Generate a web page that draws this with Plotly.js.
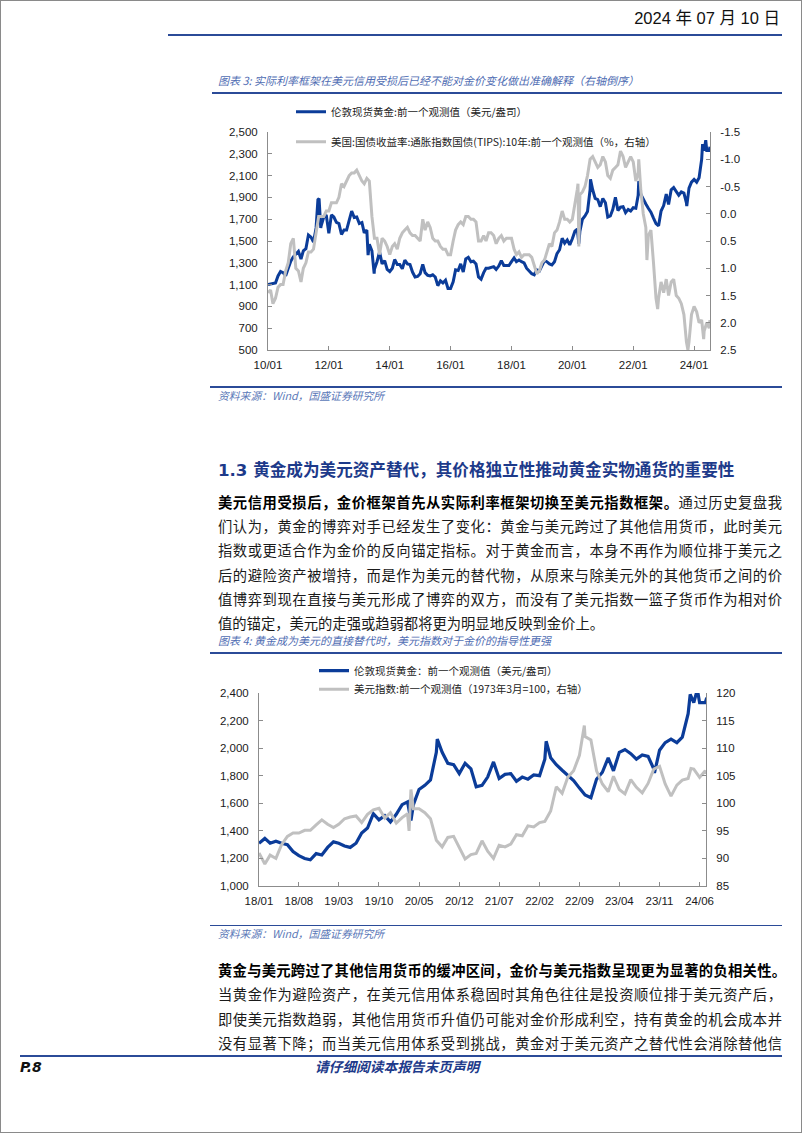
<!DOCTYPE html>
<html><head><meta charset="utf-8">
<script src="https://cdn.plot.ly/plotly-3.0.1.min.js"></script>
<style>
html,body{margin:0;padding:0;background:#fff;}
#page{position:relative;width:802px;height:1133px;overflow:hidden;font-family:"Noto Sans CJK SC",sans-serif;color:#111;}
#frame{position:absolute;left:0;top:0;width:800px;height:1131px;border:1px solid #8a8a8a;}
.t{position:absolute;white-space:nowrap;transform:translateY(-50%);line-height:1.15;}
.rule{position:absolute;background:#2b4b98;}
.ct{left:218px;font-size:11px;font-style:italic;color:#4f6db3;}
.src{left:218px;font-size:10.8px;font-style:italic;color:#5b78b8;}
.p{position:absolute;left:218px;width:564px;font-size:14.3px;line-height:1.1;transform:translateY(-50%);text-align:justify;text-align-last:justify;color:#1a1a1a;}
.p.last{text-align-last:left;}
.b{font-weight:bold;color:#000;}
.chart{position:absolute;left:0;width:802px;}
</style></head>
<body><div id="page">
<div id="frame"></div>
<div class="t" style="right:22px;top:18px;font-size:16.5px;font-family:'Liberation Sans','Noto Sans CJK SC',sans-serif;color:#111;">2024 年 07 月 10 日</div>
<div class="rule" style="left:168px;top:34px;width:614px;height:2px;"></div>

<div class="t ct" style="top:80px;">图表 3: 实际利率框架在美元信用受损后已经不能对金价变化做出准确解释（右轴倒序）</div>
<div class="rule" style="left:212px;top:92px;width:570px;height:2px;"></div>
<div id="chart1" class="chart" style="top:95px;height:290px;"></div>
<div class="rule" style="left:210px;top:386px;width:572px;height:1.5px;"></div>
<div class="t src" style="top:395px;">资料来源：Wind，国盛证券研究所</div>

<div class="t" style="left:218px;top:471px;font-size:16.6px;font-weight:bold;color:#1d3a8a;font-family:'DejaVu Sans','Noto Sans CJK SC',sans-serif;">1.3&nbsp;黄金成为美元资产替代，其价格独立性推动黄金实物通货的重要性</div>

<div class="p" style="top:502px;"><span class="b">美元信用受损后，金价框架首先从实际利率框架切换至美元指数框架。</span>通过历史复盘我</div>
<div class="p" style="top:526.2px;">们认为，黄金的博弈对手已经发生了变化：黄金与美元跨过了其他信用货币，此时美元</div>
<div class="p" style="top:550.4px;">指数或更适合作为金价的反向锚定指标。对于黄金而言，本身不再作为顺位排于美元之</div>
<div class="p" style="top:574.6px;">后的避险资产被增持，而是作为美元的替代物，从原来与除美元外的其他货币之间的价</div>
<div class="p" style="top:598.8px;">值博弈到现在直接与美元形成了博弈的双方，而没有了美元指数一篮子货币作为相对价</div>
<div class="p last" style="top:623px;">值的锚定，美元的走强或趋弱都将更为明显地反映到金价上。</div>

<div class="t ct" style="top:640px;">图表 4: 黄金成为美元的直接替代时，美元指数对于金价的指导性更强</div>
<div class="rule" style="left:210px;top:652px;width:572px;height:2px;"></div>
<div id="chart2" class="chart" style="top:655px;height:260px;"></div>
<div class="rule" style="left:210px;top:924.5px;width:572px;height:1.5px;"></div>
<div class="t src" style="top:933px;">资料来源：Wind，国盛证券研究所</div>

<div class="p" style="top:970px;width:568px;"><span class="b">黄金与美元跨过了其他信用货币的缓冲区间，金价与美元指数呈现更为显著的负相关性。</span></div>
<div class="p" style="top:994.3px;">当黄金作为避险资产，在美元信用体系稳固时其角色往往是投资顺位排于美元资产后，</div>
<div class="p" style="top:1018.6px;">即使美元指数趋弱，其他信用货币升值仍可能对金价形成利空，持有黄金的机会成本并</div>
<div class="p" style="top:1043px;">没有显著下降；而当美元信用体系受到挑战，黄金对于美元资产之替代性会消除替他信</div>

<div class="rule" style="left:20px;top:1055px;width:762px;height:2px;"></div>
<div class="t" style="left:20px;top:1067px;font-size:14px;font-weight:bold;font-style:italic;font-family:'DejaVu Sans',sans-serif;color:#111;">P.8</div>
<div class="t" style="left:315px;top:1067px;font-size:13.7px;font-weight:bold;font-style:italic;color:#1d3a8a;">请仔细阅读本报告末页声明</div>
</div>

<script>
// ---------- Chart 3 data: London spot gold (USD/oz) ----------
const goldDates = [
"2010-01","2010-02","2010-03","2010-04","2010-05","2010-06","2010-07","2010-08","2010-09","2010-10","2010-11","2010-12",
"2011-01","2011-02","2011-03","2011-04","2011-05","2011-06","2011-07","2011-08","2011-08-23","2011-09-06","2011-09-26","2011-10","2011-11","2011-12",
"2012-01","2012-02","2012-03","2012-04","2012-05","2012-06","2012-07","2012-08","2012-09","2012-10","2012-11","2012-12",
"2013-01","2013-02","2013-03","2013-04","2013-04-16","2013-05","2013-06","2013-06-28","2013-07","2013-08","2013-09","2013-10","2013-11","2013-12",
"2014-01","2014-02","2014-03","2014-04","2014-05","2014-06","2014-07","2014-08","2014-09","2014-10","2014-11","2014-12",
"2015-01","2015-02","2015-03","2015-04","2015-05","2015-06","2015-07","2015-08","2015-09","2015-10","2015-11","2015-12",
"2016-01","2016-02","2016-03","2016-04","2016-05","2016-06","2016-07","2016-08","2016-09","2016-10","2016-11","2016-12",
"2017-01","2017-02","2017-03","2017-04","2017-05","2017-06","2017-07","2017-08","2017-09","2017-10","2017-11","2017-12",
"2018-01","2018-02","2018-03","2018-04","2018-05","2018-06","2018-07","2018-08","2018-09","2018-10","2018-11","2018-12",
"2019-01","2019-02","2019-03","2019-04","2019-05","2019-06","2019-07","2019-08","2019-09","2019-10","2019-11","2019-12",
"2020-01","2020-02","2020-03","2020-03-19","2020-04","2020-05","2020-06","2020-07","2020-08","2020-08-06","2020-09","2020-10","2020-11","2020-12",
"2021-01","2021-02","2021-03","2021-04","2021-05","2021-06","2021-07","2021-08","2021-09","2021-10","2021-11","2021-12",
"2022-01","2022-02","2022-03","2022-03-08","2022-04","2022-05","2022-06","2022-07","2022-08","2022-09","2022-10","2022-11","2022-12",
"2023-01","2023-02","2023-03","2023-04","2023-05","2023-06","2023-07","2023-08","2023-09","2023-10","2023-10-05","2023-11","2023-12",
"2024-01","2024-02","2024-03","2024-04","2024-04-12","2024-05","2024-05-20","2024-06","2024-07","2024-07-09"
];
const goldPrice = [
1100,1105,1115,1115,1180,1220,1210,1180,1250,1315,1355,1385,
1405,1335,1410,1430,1555,1535,1490,1620,1880,1890,1620,1640,1720,1740,
1570,1740,1720,1670,1660,1560,1600,1600,1690,1775,1715,1720,
1660,1670,1575,1600,1370,1470,1410,1200,1240,1310,1400,1290,1320,1240,
1220,1250,1330,1285,1285,1245,1325,1290,1285,1215,1170,1175,
1200,1285,1210,1185,1180,1190,1170,1090,1135,1115,1140,1065,
1065,1125,1235,1230,1290,1215,1335,1350,1310,1315,1290,1170,
1150,1210,1250,1250,1255,1265,1240,1270,1320,1275,1275,1275,
1310,1345,1310,1325,1310,1300,1250,1220,1200,1190,1235,1225,
1280,1320,1310,1290,1280,1310,1385,1420,1525,1480,1510,1465,
1520,1590,1610,1475,1590,1700,1730,1770,1970,2065,1970,1890,1880,1815,
1890,1850,1720,1730,1790,1900,1780,1810,1815,1760,1790,1775,
1805,1800,1920,2050,1930,1880,1840,1800,1765,1710,1660,1640,1775,
1825,1930,1835,1970,1990,1960,1920,1950,1940,1850,1820,1985,2040,
2065,2040,2080,2250,2390,2330,2425,2330,2330,2365
];
// ---------- US 10Y TIPS yield (%) ----------
const tipsDates = [
"2010-01","2010-02","2010-03","2010-04","2010-05","2010-06","2010-07","2010-08","2010-09","2010-10","2010-11","2010-12",
"2011-01","2011-02","2011-03","2011-04","2011-05","2011-06","2011-07","2011-08","2011-09","2011-10","2011-11","2011-12",
"2012-01","2012-02","2012-03","2012-04","2012-05","2012-06","2012-07","2012-08","2012-09","2012-10","2012-11","2012-12",
"2013-01","2013-02","2013-03","2013-04","2013-05","2013-06","2013-07","2013-08","2013-09","2013-10","2013-11","2013-12",
"2014-01","2014-02","2014-03","2014-04","2014-05","2014-06","2014-07","2014-08","2014-09","2014-10","2014-11","2014-12",
"2015-01","2015-02","2015-03","2015-04","2015-05","2015-06","2015-07","2015-08","2015-09","2015-10","2015-11","2015-12",
"2016-01","2016-02","2016-03","2016-04","2016-05","2016-06","2016-07","2016-08","2016-09","2016-10","2016-11","2016-12",
"2017-01","2017-02","2017-03","2017-04","2017-05","2017-06","2017-07","2017-08","2017-09","2017-10","2017-11","2017-12",
"2018-01","2018-02","2018-03","2018-04","2018-05","2018-06","2018-07","2018-08","2018-09","2018-10","2018-11","2018-12",
"2019-01","2019-02","2019-03","2019-04","2019-05","2019-06","2019-07","2019-08","2019-09","2019-10","2019-11","2019-12",
"2020-01","2020-02","2020-03","2020-03-09","2020-03-19","2020-04","2020-05","2020-06","2020-07","2020-08","2020-09","2020-10","2020-11","2020-12",
"2021-01","2021-02","2021-03","2021-04","2021-05","2021-06","2021-07","2021-08","2021-09","2021-10","2021-11","2021-12",
"2022-01","2022-02","2022-03","2022-03-08","2022-04","2022-05","2022-06","2022-06-14","2022-07","2022-08","2022-09","2022-10","2022-10-21","2022-11","2022-12",
"2023-01","2023-02","2023-03","2023-04","2023-05","2023-06","2023-07","2023-08","2023-09","2023-10","2023-10-19","2023-11","2023-12",
"2024-01","2024-02","2024-03","2024-04","2024-04-25","2024-05","2024-06","2024-07","2024-07-09"
];
const tipsYield = [
1.45,1.40,1.65,1.55,1.35,1.30,1.30,1.05,0.90,0.55,0.45,1.00,
1.05,1.25,1.00,0.90,0.70,0.70,0.65,0.30,0.05,0.05,0.05,-0.05,
-0.05,-0.20,-0.20,-0.20,-0.30,-0.55,-0.50,-0.60,-0.70,-0.75,-0.75,-0.80,
-0.70,-0.60,-0.55,-0.65,-0.60,0.05,0.45,0.45,0.75,0.45,0.50,0.60,
0.75,0.60,0.55,0.65,0.45,0.35,0.30,0.25,0.35,0.40,0.40,0.45,
0.50,0.10,0.30,0.15,0.25,0.45,0.50,0.50,0.60,0.65,0.65,0.75,
0.75,0.50,0.30,0.20,0.15,0.20,0.05,0.05,0.10,0.10,0.15,0.50,
0.50,0.40,0.50,0.35,0.35,0.40,0.55,0.45,0.40,0.50,0.45,0.45,
0.45,0.65,0.75,0.70,0.80,0.75,0.75,0.75,0.80,0.95,1.10,1.05,
0.90,0.85,0.70,0.55,0.60,0.35,0.30,0.15,-0.05,0.10,0.10,0.15,
0.10,-0.15,-0.45,-0.55,0.60,-0.35,-0.40,-0.50,-0.70,-1.00,-1.05,-0.95,-0.85,-0.90,
-1.05,-0.95,-0.70,-0.65,-0.80,-0.85,-0.90,-1.15,-1.05,-0.85,-0.95,-1.05,
-0.95,-0.60,-0.75,-1.00,-0.45,0.00,0.25,0.85,0.40,0.30,0.90,1.55,1.75,1.55,1.25,
1.45,1.20,1.50,1.25,1.20,1.50,1.55,1.65,1.85,2.35,2.50,2.35,1.85,
1.70,1.80,2.00,1.95,2.30,2.15,2.00,2.10,1.95
];
// ---------- Chart 4 data: US dollar index (1973-03 = 100) ----------
const dxyDates = [
"2018-01","2018-02","2018-03","2018-04","2018-05","2018-06","2018-07","2018-08","2018-09","2018-10","2018-11","2018-12",
"2019-01","2019-02","2019-03","2019-04","2019-05","2019-06","2019-07","2019-08","2019-09","2019-10","2019-11","2019-12",
"2020-01","2020-02","2020-03","2020-03-09","2020-03-19","2020-04","2020-05","2020-06","2020-07","2020-08","2020-09","2020-10","2020-11","2020-12",
"2021-01","2021-02","2021-03","2021-04","2021-05","2021-06","2021-07","2021-08","2021-09","2021-10","2021-11","2021-12",
"2022-01","2022-02","2022-03","2022-04","2022-05","2022-06","2022-07","2022-08","2022-09","2022-09-27","2022-10","2022-11","2022-12",
"2023-01","2023-02","2023-03","2023-04","2023-05","2023-06","2023-07","2023-08","2023-09","2023-10","2023-11","2023-12",
"2024-01","2024-02","2024-03","2024-04","2024-04-16","2024-05","2024-06","2024-07","2024-07-03"
];
const dxyIndex = [
91.0,89.0,90.6,90.0,92.5,94.0,94.6,94.6,95.1,95.1,96.1,97.0,
96.2,95.6,96.2,97.2,97.5,97.7,96.5,98.0,98.8,99.1,97.3,98.3,
96.4,97.4,98.1,95.0,102.5,99.0,99.0,98.3,97.2,93.3,92.1,93.8,94.0,91.9,
89.9,90.7,90.9,93.2,91.3,90.0,92.4,92.1,92.6,94.3,94.1,95.9,
95.7,96.5,96.7,98.6,103.0,101.8,104.7,105.9,108.7,114.1,112.1,111.5,105.9,
103.5,102.1,104.9,102.5,101.7,104.3,102.9,101.9,103.6,106.2,106.7,103.5,
101.3,103.3,104.2,104.5,106.3,106.2,104.7,105.9,105.3
];
// ---------- tick labels ----------
const tipsTickVals = [-1.5,-1.0,-0.5,0.0,0.5,1.0,1.5,2.0,2.5];
const tipsTickText = ["-1.5","-1.0","-0.5","0.0","0.5","1.0","1.5","2.0","2.5"];

const legendGold1 = "伦敦现货黄金:前一个观测值（美元/盎司）";
const legendTips = "美国:国债收益率:通胀指数国债(TIPS):10年:前一个观测值（%，右轴）";
const legendGold2 = "伦敦现货黄金：前一个观测值（美元/盎司）";
const legendDxy = "美元指数:前一个观测值（1973年3月=100，右轴）";

const BLUE = "#0b3c99", GRAY = "#c0c0c0", AX = "#8c8c8c";
const tickFont = {family:"Liberation Sans, Arial, sans-serif", size:11.5, color:"#1a1a1a"};
const legFont = {family:"Noto Sans CJK SC, sans-serif", size:10.5, color:"#222"};

function axisBase(extra){
  return Object.assign({showgrid:false, zeroline:false, showline:true, linecolor:AX, linewidth:1,
    ticks:"inside", ticklen:4, tickwidth:1, tickcolor:AX, tickfont:tickFont, fixedrange:true}, extra);
}
// px: page x of legend box; dy: distance of the row centre from the top of the chart div
function leg(px, dy, H){
  return {xref:"container", yref:"container", x:px/802, y:1-dy/H, xanchor:"left", yanchor:"middle",
    bgcolor:"rgba(0,0,0,0)", borderwidth:0, itemwidth:30, font:legFont, orientation:"v"};
}

// Chart 1
const H1 = 290;
Plotly.newPlot("chart1", [
  {x:goldDates, y:goldPrice, type:"scatter", mode:"lines", name:legendGold1, yaxis:"y",
   line:{color:BLUE, width:3}, legend:"legend"},
  {x:tipsDates, y:tipsYield, type:"scatter", mode:"lines", name:legendTips, yaxis:"y2",
   line:{color:GRAY, width:3}, legend:"legend2"}
], {
  width:802, height:H1, margin:{l:268, r:92, t:37, b:35, autoexpand:false},
  paper_bgcolor:"rgba(0,0,0,0)", plot_bgcolor:"rgba(0,0,0,0)",
  showlegend:true,
  xaxis:axisBase({type:"date", range:["2010-01-01","2024-07-10"], tick0:"2010-01-01", dtick:"M24", tickformat:"%y/%m", ticklabelstandoff:4}),
  yaxis:axisBase({range:[500,2500], dtick:200, tick0:500, tickformat:",d", ticklabelstandoff:7}),
  yaxis2:axisBase({overlaying:"y", side:"right", range:[2.5,-1.5], tickvals:tipsTickVals, ticktext:tipsTickText, ticklabelstandoff:7}),
  legend:leg(291, 16.7, H1),
  legend2:leg(291, 46.7, H1)
}, {staticPlot:true, displayModeBar:false});

// Chart 2 (gold series from 2018 onward)
const g2Dates = [], g2Price = [];
goldDates.forEach((d,i)=>{ if(d >= "2018-01"){ g2Dates.push(d); g2Price.push(goldPrice[i]); } });
const H2 = 260;
Plotly.newPlot("chart2", [
  {x:g2Dates, y:g2Price, type:"scatter", mode:"lines", name:legendGold2, yaxis:"y",
   line:{color:BLUE, width:3.2}, legend:"legend"},
  {x:dxyDates, y:dxyIndex, type:"scatter", mode:"lines", name:legendDxy, yaxis:"y2",
   line:{color:GRAY, width:3}, legend:"legend2"}
], {
  width:802, height:H2, margin:{l:259, r:96, t:38, b:29, autoexpand:false},
  paper_bgcolor:"rgba(0,0,0,0)", plot_bgcolor:"rgba(0,0,0,0)",
  showlegend:true,
  xaxis:axisBase({type:"date", range:["2018-01-01","2024-07-05"], tick0:"2018-01-01", dtick:"M7", tickformat:"%y/%m", ticklabelstandoff:4}),
  yaxis:axisBase({range:[1000,2400], dtick:200, tick0:1000, tickformat:",d", ticklabelstandoff:7}),
  yaxis2:axisBase({overlaying:"y", side:"right", range:[85,120], dtick:5, tick0:85, ticklabelstandoff:7}),
  legend:leg(314, 15.7, H2),
  legend2:leg(314, 34.3, H2)
}, {staticPlot:true, displayModeBar:false});
</script>
</body></html>
